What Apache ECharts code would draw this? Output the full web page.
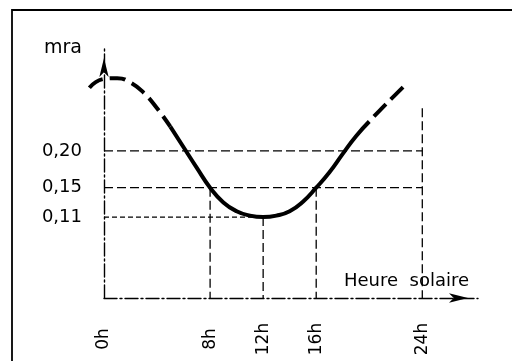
<!DOCTYPE html>
<html>
<head>
<meta charset="utf-8">
<script src="https://cdn.jsdelivr.net/npm/echarts@6/dist/echarts.min.js"></script>
<style>
  html, body { margin: 0; padding: 0; background: #fff; }
  #chart { width: 512px; height: 361px; }
</style>
</head>
<body>
<div id="chart"></div>
<script>
// Daily variation of mra against solar time
const curveHours  = [-1.1, 0, 1, 2, 3, 4, 5, 6, 7, 8, 9, 10, 11, 12, 13, 14, 15, 16, 17, 18, 19, 20, 21, 22, 22.9];
const curveValues = [0.286, 0.298, 0.299, 0.293, 0.279, 0.258, 0.233, 0.205, 0.177, 0.150, 0.130, 0.118, 0.112, 0.110, 0.112, 0.118, 0.131, 0.150, 0.171, 0.196, 0.220, 0.240, 0.259, 0.277, 0.293];
const solidFrom = 5;    // solid stretch of the curve, in hours
const solidTo = 20;

// reading guides
const levelValues = [0.20, 0.15, 0.11];
const levelEnds   = [24, 24, 12];
const hourMarks   = [8, 12, 16, 24];
const hourTops    = [0.15, 0.11, 0.15, 0.258];

// tick labels
const xLabelHours  = [0, 8, 12, 16, 24];
const yLabelValues = [0.11, 0.15, 0.20];

const xMax = 28.2;
const yMax = 0.34;
const curveMin = -1.2;   // the curve starts a little before 0h

const points = curveHours.map((h, i) => [h, curveValues[i]]);
const segment = (lo, hi) => points.filter(p => p[0] >= lo && p[0] <= hi);

const ink = '#000';
const gridLeft = 104, gridRight = 34, gridTop = 48, gridBottom = 63;
const pxPerHour = (512 - gridLeft - gridRight) / xMax;

const series = [];
function guide(data, dash) {
  series.push({
    type: 'line', data: data, symbol: 'none', silent: true, z: 1,
    lineStyle: { color: ink, width: 1.3, type: dash }
  });
}
levelValues.forEach((v, i) => guide([[0, v], [levelEnds[i], v]], i === 2 ? [5, 3] : [9, 4]));
hourMarks.forEach((h, i) => guide([[h, hourTops[i]], [h, 0]], [9, 4]));

// the curve lives on a second, hidden grid sharing the same scale but reaching below 0h
const curveBase = { type: 'line', xAxisIndex: 1, yAxisIndex: 1, symbol: 'none', smooth: 0.5, silent: true, z: 5 };
series.push(Object.assign({}, curveBase, {
  data: segment(-Infinity, solidFrom),
  lineStyle: { color: ink, width: 4, type: [16, 7], cap: 'butt' }
}));
series.push(Object.assign({}, curveBase, {
  data: segment(solidFrom, solidTo),
  lineStyle: { color: ink, width: 4, cap: 'butt' }
}));
series.push(Object.assign({}, curveBase, {
  data: segment(solidTo, Infinity),
  lineStyle: { color: ink, width: 4, type: [17, 7], dashOffset: 17, cap: 'butt' }
}));

const axisLineStyle = { color: ink, width: 1.4, type: [13, 3, 2, 3] };
const hidden = { show: false };

const chart = echarts.init(document.getElementById('chart'), null, { renderer: 'canvas' });
chart.setOption({
  animation: false,
  backgroundColor: '#fff',
  grid: [
    { left: gridLeft, right: gridRight, top: gridTop, bottom: gridBottom },
    { left: gridLeft + curveMin * pxPerHour, right: gridRight, top: gridTop, bottom: gridBottom }
  ],
  xAxis: [{
    type: 'value', min: 0, max: xMax, gridIndex: 0,
    name: 'Heure  solaire',
    nameLocation: 'end',
    nameGap: -9,
    nameTextStyle: { fontFamily: 'DejaVu Sans', fontSize: 18, color: ink, align: 'right', verticalAlign: 'bottom', padding: [0, 0, 8, 0] },
    axisLine: { show: true, onZero: true, lineStyle: axisLineStyle, symbol: ['none', 'arrow'], symbolSize: [7, 19], symbolOffset: [0, -10] },
    axisTick: { show: false },
    splitLine: { show: false },
    axisLabel: {
      customValues: xLabelHours,
      formatter: v => v + 'h',
      rotate: 90, align: 'center', verticalAlign: 'middle', margin: 41,
      fontFamily: 'DejaVu Sans', fontSize: 17, color: ink
    }
  }, {
    type: 'value', min: curveMin, max: xMax, gridIndex: 1,
    axisLine: hidden, axisTick: hidden, axisLabel: hidden, splitLine: hidden
  }],
  yAxis: [{
    type: 'value', min: 0, max: yMax, gridIndex: 0,
    name: 'mra',
    nameLocation: 'end',
    nameGap: 0,
    nameTextStyle: { fontFamily: 'DejaVu Sans', fontSize: 19, color: ink, align: 'right', verticalAlign: 'middle', padding: [0, 22, 0, 0] },
    axisLine: { show: true, onZero: true, lineStyle: axisLineStyle, symbol: ['none', 'arrow'], symbolSize: [7, 19], symbolOffset: [0, -10] },
    axisTick: { show: false },
    splitLine: { show: false },
    axisLabel: {
      customValues: yLabelValues,
      formatter: v => v.toFixed(2).replace('.', ','),
      margin: 22,
      fontFamily: 'DejaVu Sans', fontSize: 18, color: ink
    }
  }, {
    type: 'value', min: 0, max: yMax, gridIndex: 1,
    axisLine: hidden, axisTick: hidden, axisLabel: hidden, splitLine: hidden
  }],
  graphic: [{
    type: 'polyline', silent: true,
    shape: { points: [[12, 361], [12, 10], [512, 10]] },
    style: { stroke: ink, lineWidth: 1.8, fill: null }
  }],
  series: series
});
</script>
</body>
</html>
